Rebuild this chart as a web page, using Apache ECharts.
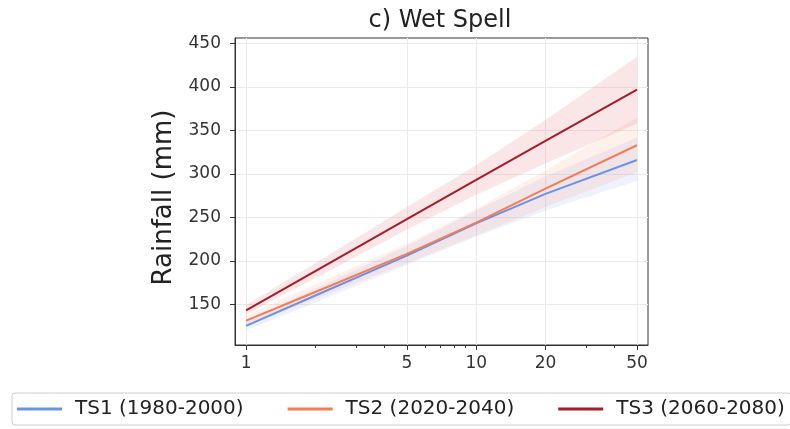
<!DOCTYPE html>
<html>
<head>
<meta charset="utf-8">
<script src="https://cdn.jsdelivr.net/npm/echarts@6/dist/echarts.min.js"></script>
<style>
  html, body { margin: 0; padding: 0; background: #fff; }
  #main { width: 790px; height: 429px; }
</style>
</head>
<body>
<div id="main"></div>
<script>
// return periods (years)
var periods = [1, 2, 5, 10, 20, 50];
var majorTicks = [1, 5, 10, 20, 50];
var minorTicks = [2, 3, 4, 6, 7, 8, 9, 30, 40];
var yTicks = [150, 200, 250, 300, 350, 400, 450];

// mean rainfall (mm)
var ts1 = [125, 160, 206, 243, 277, 316];
var ts2 = [131, 164, 208, 244, 283, 333];
var ts3 = [143, 188, 248, 293, 338, 397];

// confidence bands
var ts1Low = [120, 152, 195, 228, 258, 292];
var ts1High = [130, 168, 217, 258, 297, 342];
var ts2Low = [126, 156, 197, 229, 262, 302];
var ts2High = [137, 173, 220, 260, 304, 365];
var ts3Low = [138, 180, 236, 276, 312, 358];
var ts3High = [149, 197, 262, 310, 362, 435];

var names = ['TS1 (1980-2000)', 'TS2 (2020-2040)', 'TS3 (2060-2080)'];
var colors = ['#6a93e6', '#f47b56', '#a61c2a'];
var bandColors = ['rgba(120,150,230,0.12)', 'rgba(244,140,100,0.13)', 'rgba(220,90,90,0.15)'];

function pairs(ys) {
  return periods.map(function (p, i) { return [p, ys[i]]; });
}

function bandSeries(low, high, color) {
  return {
    type: 'custom',
    silent: true,
    z: 1,
    data: [0],
    renderItem: function (params, api) {
      var pts = [];
      for (var i = 0; i < periods.length; i++) pts.push(api.coord([periods[i], high[i]]));
      for (var j = periods.length - 1; j >= 0; j--) pts.push(api.coord([periods[j], low[j]]));
      return { type: 'polygon', shape: { points: pts }, style: { fill: color } };
    }
  };
}

function lineSeries(name, ys, color) {
  return {
    name: name,
    type: 'line',
    data: pairs(ys),
    showSymbol: false,
    z: 3,
    lineStyle: { color: color, width: 2 },
    itemStyle: { color: color }
  };
}

var chart = echarts.init(document.getElementById('main'));
chart.setOption({
  animation: false,
  title: {
    text: 'c) Wet Spell',
    left: 435,
    top: 4,
    textAlign: 'center',
    textStyle: { fontFamily: 'DejaVu Sans', fontSize: 24, fontWeight: 'normal', color: '#222' }
  },
  legend: {
    data: names,
    left: 12,
    top: 393,
    width: 800,
    padding: [6, 6, 6, 5],
    itemGap: 44,
    itemWidth: 45,
    itemHeight: 3,
    icon: 'rect',
    borderColor: '#ccc',
    borderWidth: 1,
    borderRadius: 3,
    textStyle: { fontFamily: 'DejaVu Sans', fontSize: 20, color: '#222', padding: [0, 0, 0, 8] }
  },
  grid: {
    left: 235, right: 142, top: 38, bottom: 84,
    show: true, borderColor: '#333', borderWidth: 1
  },
  xAxis: [{
    type: 'log',
    logBase: 10,
    min: 0.895,
    max: 55.8,
    axisLine: { show: true, lineStyle: { color: '#333' } },
    axisTick: { show: true, customValues: majorTicks, length: 5, lineStyle: { color: '#333' } },
    axisLabel: { customValues: majorTicks, color: '#333', fontFamily: 'DejaVu Sans', fontSize: 17, margin: 10 },
    splitLine: { show: true, lineStyle: { color: '#ebebeb' } }
  }, {
    type: 'log',
    logBase: 10,
    min: 0.895,
    max: 55.8,
    position: 'bottom',
    axisLine: { show: false },
    axisTick: { show: true, customValues: minorTicks, length: 3, lineStyle: { color: '#333' } },
    axisLabel: { show: false },
    splitLine: { show: false }
  }],
  yAxis: {
    type: 'value',
    min: 103,
    max: 456.5,
    name: 'Rainfall (mm)',
    nameLocation: 'middle',
    nameGap: 46,
    nameTextStyle: { fontFamily: 'DejaVu Sans', fontSize: 26, color: '#222', padding: [0, 12, 0, 0] },
    axisLine: { show: true, lineStyle: { color: '#333' } },
    axisTick: { show: true, customValues: yTicks, length: 5, lineStyle: { color: '#333' } },
    axisLabel: { customValues: yTicks, color: '#333', fontFamily: 'DejaVu Sans', fontSize: 17, margin: 14 },
    splitLine: { show: true, lineStyle: { color: '#ebebeb' } }
  },
  series: [
    bandSeries(ts1Low, ts1High, bandColors[0]),
    bandSeries(ts2Low, ts2High, bandColors[1]),
    bandSeries(ts3Low, ts3High, bandColors[2]),
    lineSeries(names[0], ts1, colors[0]),
    lineSeries(names[1], ts2, colors[1]),
    lineSeries(names[2], ts3, colors[2])
  ]
});
</script>
</body>
</html>
